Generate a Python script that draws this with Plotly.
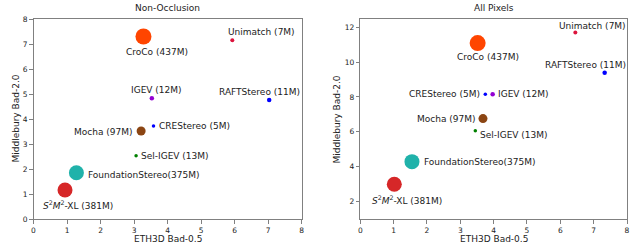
import plotly.graph_objects as go

# ---------------- data ----------------
methods = ["CroCo", "Unimatch", "IGEV", "RAFTStereo", "CREStereo", "Mocha",
           "Sel-IGEV", "FoundationStereo", "S2M2-XL"]
labels = ["CroCo (437M)", "Unimatch (7M)", "IGEV (12M)", "RAFTStereo (11M)",
          "CREStereo (5M)", "Mocha (97M)", "Sel-IGEV (13M)",
          "FoundationStereo(375M)",
          "<i>S</i><sup>2</sup><i>M</i><sup>2</sup>-XL (381M)"]
params_m = [437, 7, 12, 11, 5, 97, 13, 375, 381]

# Non-Occlusion panel
noc_eth3d = [3.28, 5.93, 3.53, 7.03, 3.58, 3.21, 3.06, 1.28, 0.94]
noc_mid = [7.30, 7.15, 4.83, 4.76, 3.72, 3.52, 2.53, 1.85, 1.16]

# All Pixels panel
all_eth3d = [3.52, 6.45, 3.97, 7.33, 3.75, 3.68, 3.45, 1.55, 1.02]
all_mid = [11.09, 11.69, 8.15, 9.39, 8.15, 6.76, 6.06, 4.29, 2.99]

x_ticks = [0, 1, 2, 3, 4, 5, 6, 7, 8]
noc_y_ticks = [0, 1, 2, 3, 4, 5, 6, 7, 8]
all_y_ticks = [2, 4, 6, 8, 10, 12]

x_title = "ETH3D Bad-0.5"
y_title = "Middlebury Bad-2.0"
panel_titles = ["Non-Occlusion", "All Pixels"]

# ---------------- style ----------------
colors = ["#FF4500", "#DC143C", "#9400D3", "#0000FF", "#0000FF", "#8B4513",
          "#008000", "#20B2AA", "#D62728"]
sizes = [16, 4, 4.5, 4.5, 3.5, 9, 3.5, 15, 15]

# label placement: (xanchor, xshift, yshift) per panel
noc_lab = [("center", 14, -16), ("left", -6, 8), ("center", 5, 8),
           ("center", -10, 8), ("left", 3, 0), ("right", -6, -1),
           ("left", 3, 0), ("left", 10, -2), ("center", 13, -15)]
all_lab = [("center", 10, -14), ("center", 17, 7), ("left", 3, 0),
           ("center", -19, 8), ("right", -3, 0), ("right", -5, 0),
           ("left", 3, -4), ("left", 10, 0), ("center", 13, -16)]

W, H = 632, 247
FONT = "DejaVu Sans"
SPINE = "#808080"
TXT = "#222222"

fig = go.Figure()
fig.add_trace(go.Scatter(x=noc_eth3d, y=noc_mid, mode="markers",
                         marker=dict(size=sizes, color=colors, line=dict(width=0), opacity=1),
                         text=methods, xaxis="x", yaxis="y", showlegend=False))
fig.add_trace(go.Scatter(x=all_eth3d, y=all_mid, mode="markers",
                         marker=dict(size=sizes, color=colors, line=dict(width=0), opacity=1),
                         text=methods, xaxis="x2", yaxis="y2", showlegend=False))

annots = []
for i, lab in enumerate(labels):
    xa, xs, ys = noc_lab[i]
    annots.append(dict(x=noc_eth3d[i], y=noc_mid[i], xref="x", yref="y", text=lab,
                       showarrow=False, xanchor=xa, yanchor="middle", xshift=xs, yshift=ys,
                       font=dict(family=FONT, size=9, color=TXT)))
    xa, xs, ys = all_lab[i]
    annots.append(dict(x=all_eth3d[i], y=all_mid[i], xref="x2", yref="y2", text=lab,
                       showarrow=False, xanchor=xa, yanchor="middle", xshift=xs, yshift=ys,
                       font=dict(family=FONT, size=9, color=TXT)))

def pa(text, px, py, angle=0):
    return dict(x=px / W, y=1 - py / H, xref="paper", yref="paper", text=text,
                showarrow=False, xanchor="center", yanchor="middle", textangle=angle,
                font=dict(family=FONT, size=9, color=TXT))

# subplot titles
annots.append(pa(panel_titles[0], 167.5, 8))
annots.append(pa(panel_titles[1], 493.7, 8))
# axis titles
annots.append(pa(x_title, 167.5, 238.5))
annots.append(pa(x_title, 493.7, 238.5))
annots.append(pa(y_title, 15.5, 119, -90))
annots.append(pa(y_title, 336.5, 119, -90))

ax_common = dict(showline=True, linecolor=SPINE, linewidth=1, mirror=True,
                 ticks="outside", ticklen=3.5, tickwidth=0.8, tickcolor=SPINE,
                 showgrid=False, zeroline=False, automargin=False,
                 tickfont=dict(family=FONT, size=7.5, color=TXT))

ydom = [1 - 219 / H, 1 - 19 / H]
fig.update_layout(
    width=W, height=H,
    margin=dict(l=0, r=0, t=0, b=0, autoexpand=False),
    paper_bgcolor="white", plot_bgcolor="white",
    xaxis=dict(domain=[33.5 / W, 301.7 / W], range=[0, 8], tickvals=x_ticks,
               anchor="y", **ax_common),
    yaxis=dict(domain=ydom, range=[0, 8], tickvals=noc_y_ticks,
               anchor="x", **ax_common),
    xaxis2=dict(domain=[360.3 / W, 627 / W], range=[0, 8], tickvals=x_ticks,
                anchor="y2", **ax_common),
    yaxis2=dict(domain=ydom, range=[1.0, 12.47], tickvals=all_y_ticks,
                anchor="x2", **ax_common),
    annotations=annots,
)

fig.write_html(
    "out.html",
    config={"displayModeBar": False},
    post_script="document.body.style.margin='0';"
                "document.documentElement.style.overflow='hidden';"
                "document.body.style.overflow='hidden';",
)
